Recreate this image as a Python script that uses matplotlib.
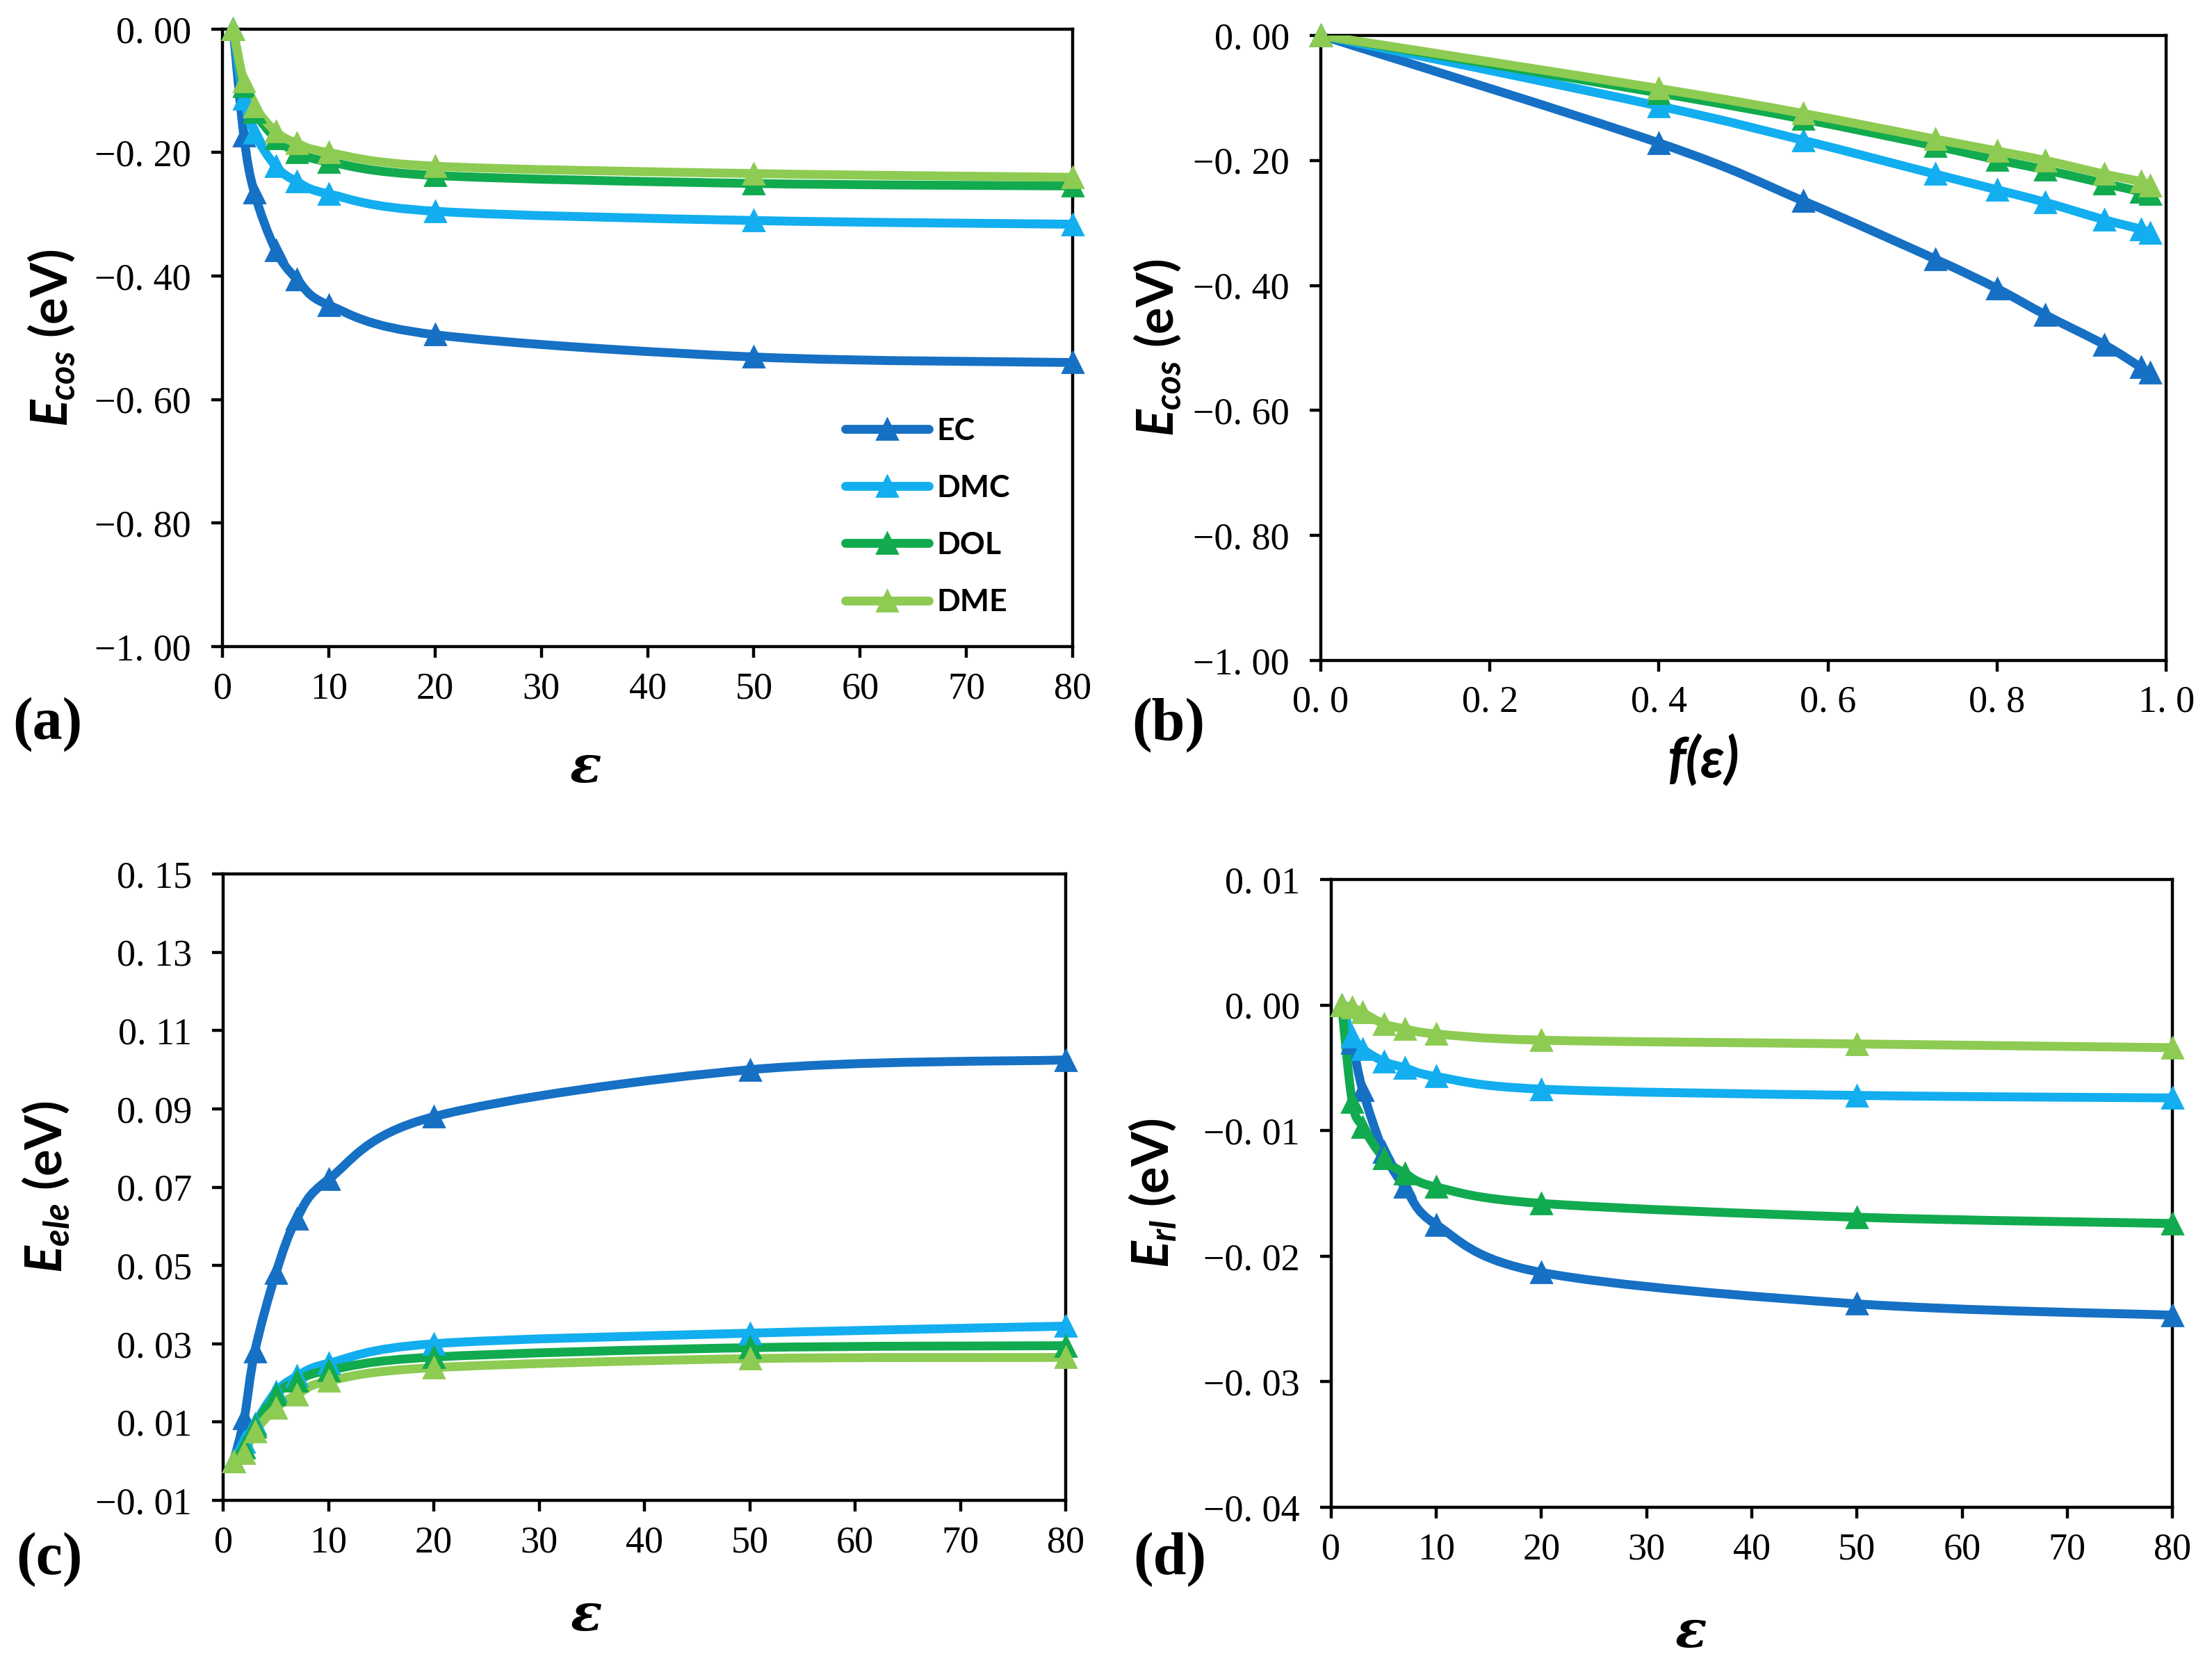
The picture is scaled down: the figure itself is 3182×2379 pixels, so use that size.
"""
Four-panel solvation energy chart (E_cos, E_ele, E_rl vs dielectric constant)
"""
import numpy as np
import matplotlib
matplotlib.use("Agg")
from matplotlib import pyplot as plt
from matplotlib.path import Path
from matplotlib.patches import PathPatch
from matplotlib.lines import Line2D
from matplotlib.ticker import FixedLocator, FuncFormatter

# ---- data ----
solvents = ["EC", "DMC", "DOL", "DME"]
colors = ["#1670C4", "#12AEEF", "#11AA4E", "#8DCB52"]

eps = [1, 2, 3, 5, 7, 10, 20, 50, 80]
f_eps = [0.0, 0.400, 0.571, 0.727, 0.800, 0.857, 0.927, 0.970, 0.981]

ecos_ec = [0.0, -0.172, -0.265, -0.358, -0.405, -0.447, -0.495, -0.531, -0.540]
ecos_dmc = [0.0, -0.113, -0.168, -0.222, -0.247, -0.267, -0.295, -0.310, -0.316]
ecos_dol = [0.0, -0.092, -0.134, -0.177, -0.199, -0.215, -0.237, -0.250, -0.254]
ecos_dme = [0.0, -0.085, -0.125, -0.166, -0.185, -0.200, -0.222, -0.234, -0.240]

eele_ec = [0.0, 0.011, 0.028, 0.048, 0.062, 0.072, 0.088, 0.100, 0.1025]
eele_dmc = [0.0, 0.0049, 0.0096, 0.0177, 0.0217, 0.025, 0.030, 0.0327, 0.0345]
eele_dol = [0.0, 0.0035, 0.0089, 0.017, 0.0205, 0.0232, 0.0266, 0.0290, 0.0295]
eele_dme = [0.0, 0.0021, 0.0075, 0.0136, 0.017, 0.0205, 0.0239, 0.0262, 0.0265]

erl_ec = [0.0, -0.0030, -0.0068, -0.0117, -0.0145, -0.0175, -0.0213, -0.0238, -0.0247]
erl_dmc = [0.0, -0.0025, -0.0035, -0.0045, -0.0050, -0.0057, -0.0067, -0.0072, -0.0074]
erl_dol = [0.0, -0.0077, -0.0097, -0.0122, -0.0134, -0.0145, -0.0158, -0.0169, -0.0174]
erl_dme = [0.0, -0.0002, -0.0006, -0.0015, -0.0019, -0.0023, -0.0028, -0.0031, -0.0034]

ecos = [ecos_ec, ecos_dmc, ecos_dol, ecos_dme]
eele = [eele_ec, eele_dmc, eele_dol, eele_dme]
erl = [erl_ec, erl_dmc, erl_dol, erl_dme]

# ---- style ----
plt.rcParams['mathtext.fontset'] = 'custom'
plt.rcParams['mathtext.it'] = 'Lato:italic:bold'
plt.rcParams['mathtext.rm'] = 'Lato:bold'
plt.rcParams['mathtext.bf'] = 'Lato:bold'

TICK_FONT = {'family': 'Liberation Serif', 'size': 19.5}
LW = 4.6
MS = 11


def smooth_path(x, y):
    """Excel-style smoothed line through the points (cubic Bezier segments)."""
    pts = np.column_stack([x, y]).astype(float)
    n = len(pts)
    verts = [pts[0]]
    codes = [Path.MOVETO]
    for i in range(n - 1):
        p_prev = pts[max(i - 1, 0)]
        p0 = pts[i]
        p1 = pts[i + 1]
        p_next = pts[min(i + 2, n - 1)]
        c1 = p0 + (p1 - p_prev) / 6.0
        c2 = p1 - (p_next - p0) / 6.0
        verts += [c1, c2, p1]
        codes += [Path.CURVE4] * 3
    return Path(verts, codes)


def fmt_factory(decimals):
    def _fmt(v, pos):
        s = f"{abs(v):.{decimals}f}".replace('.', '. ')
        return ('\u2212' + s) if v < -1e-12 else s
    return _fmt


def style_axes(ax, xlim, xticks, xdec, ylim, yticks, ydec):
    ax.set_xlim(*xlim)
    ax.set_ylim(*ylim)
    ax.xaxis.set_major_locator(FixedLocator(xticks))
    ax.yaxis.set_major_locator(FixedLocator(yticks))
    ax.xaxis.set_major_formatter(FuncFormatter(fmt_factory(xdec)))
    ax.yaxis.set_major_formatter(FuncFormatter(fmt_factory(ydec)))
    for sp in ax.spines.values():
        sp.set_linewidth(1.6)
        sp.set_color('black')
    ax.tick_params(direction='out', length=5.8, width=1.6, top=False, right=False)
    ax.tick_params(axis='y', pad=10.5)
    ax.tick_params(axis='x', pad=7)
    for lab in ax.get_xticklabels() + ax.get_yticklabels():
        lab.set_fontfamily(TICK_FONT['family'])
        lab.set_fontsize(TICK_FONT['size'])


def draw_series(ax, xs, series):
    for ys, c in zip(series, colors):
        ax.add_patch(PathPatch(smooth_path(xs, ys), fill=False, edgecolor=c,
                               lw=LW, capstyle='round', joinstyle='round', zorder=3))
        ax.plot(xs, ys, linestyle='none', marker='^', ms=MS, color=c,
                clip_on=False, zorder=4)


def set_labels(ax, ylabel, ypos, xlabel, xpos, xfont, xsize):
    ax.set_ylabel(ylabel, fontfamily='Lato', fontweight='bold', fontsize=26)
    ax.yaxis.set_label_coords(*ypos)
    ax.yaxis.label.set_va('center')
    ax.set_xlabel(xlabel, fontsize=xsize, fontweight='bold', fontstyle='italic',
                  fontfamily=xfont)
    ax.xaxis.set_label_coords(*xpos)
    ax.xaxis.label.set_va('center')


fig = plt.figure(figsize=(15.91, 11.895), dpi=200)

ax_a = fig.add_axes([0.1006, 0.6091, 0.3843, 0.3733])
ax_b = fig.add_axes([0.5971, 0.6007, 0.3822, 0.3779])
ax_c = fig.add_axes([0.1009, 0.0929, 0.3809, 0.3787])
ax_d = fig.add_axes([0.6018, 0.0887, 0.3803, 0.3796])

eps_ticks = list(range(0, 81, 10))

# (a) E_cos vs eps
draw_series(ax_a, eps, ecos)
style_axes(ax_a, (0, 80), eps_ticks, 0, (-1.0, 0.0),
           [-1.0, -0.8, -0.6, -0.4, -0.2, 0.0], 2)
set_labels(ax_a, r'$E_{cos}$ (eV)', (-0.201, 0.5), 'ε', (0.427, -0.196),
           'DejaVu Serif', 27)
handles = [Line2D([], [], color=c, lw=LW, marker='^', ms=MS,
                  solid_capstyle='round') for c in colors]
ax_a.legend(handles, solvents, loc='upper left', bbox_to_anchor=(0.733, 0.372),
            frameon=False, borderaxespad=0, borderpad=0, handlelength=2.7,
            handletextpad=0.25, labelspacing=0.95,
            prop={'family': 'Lato', 'weight': 'bold', 'size': 16})

# (b) E_cos vs f(eps)
draw_series(ax_b, f_eps, ecos)
style_axes(ax_b, (0, 1.0), [0, 0.2, 0.4, 0.6, 0.8, 1.0], 1, (-1.0, 0.0),
           [-1.0, -0.8, -0.6, -0.4, -0.2, 0.0], 2)
set_labels(ax_b, r'$E_{cos}$ (eV)', (-0.193, 0.5), 'f(ε)', (0.452, -0.16),
           ['Lato', 'DejaVu Sans'], 29)

# (c) E_ele vs eps
draw_series(ax_c, eps, eele)
style_axes(ax_c, (0, 80), eps_ticks, 0, (-0.01, 0.15),
           [-0.01, 0.01, 0.03, 0.05, 0.07, 0.09, 0.11, 0.13, 0.15], 2)
set_labels(ax_c, r'$E_{ele}$ (eV)', (-0.21, 0.5), 'ε', (0.431, -0.185),
           'DejaVu Serif', 27)

# (d) E_rl vs eps
draw_series(ax_d, eps, erl)
style_axes(ax_d, (0, 80), eps_ticks, 0, (-0.04, 0.01),
           [-0.04, -0.03, -0.02, -0.01, 0.0, 0.01], 2)
set_labels(ax_d, r'$E_{rl}$ (eV)', (-0.212, 0.5), 'ε', (0.427, -0.2),
           'DejaVu Serif', 27)

# panel letters
for lab, (x, y) in zip(['(a)', '(b)', '(c)', '(d)'],
                       [(0.0214, 0.562), (0.5283, 0.5616),
                        (0.0223, 0.0572), (0.5289, 0.0572)]):
    fig.text(x, y, lab, ha='center', va='center', fontfamily='Liberation Serif',
             fontweight='bold', fontsize=31)

fig.savefig('out.png', dpi=200, facecolor='white')
plt.close(fig)
